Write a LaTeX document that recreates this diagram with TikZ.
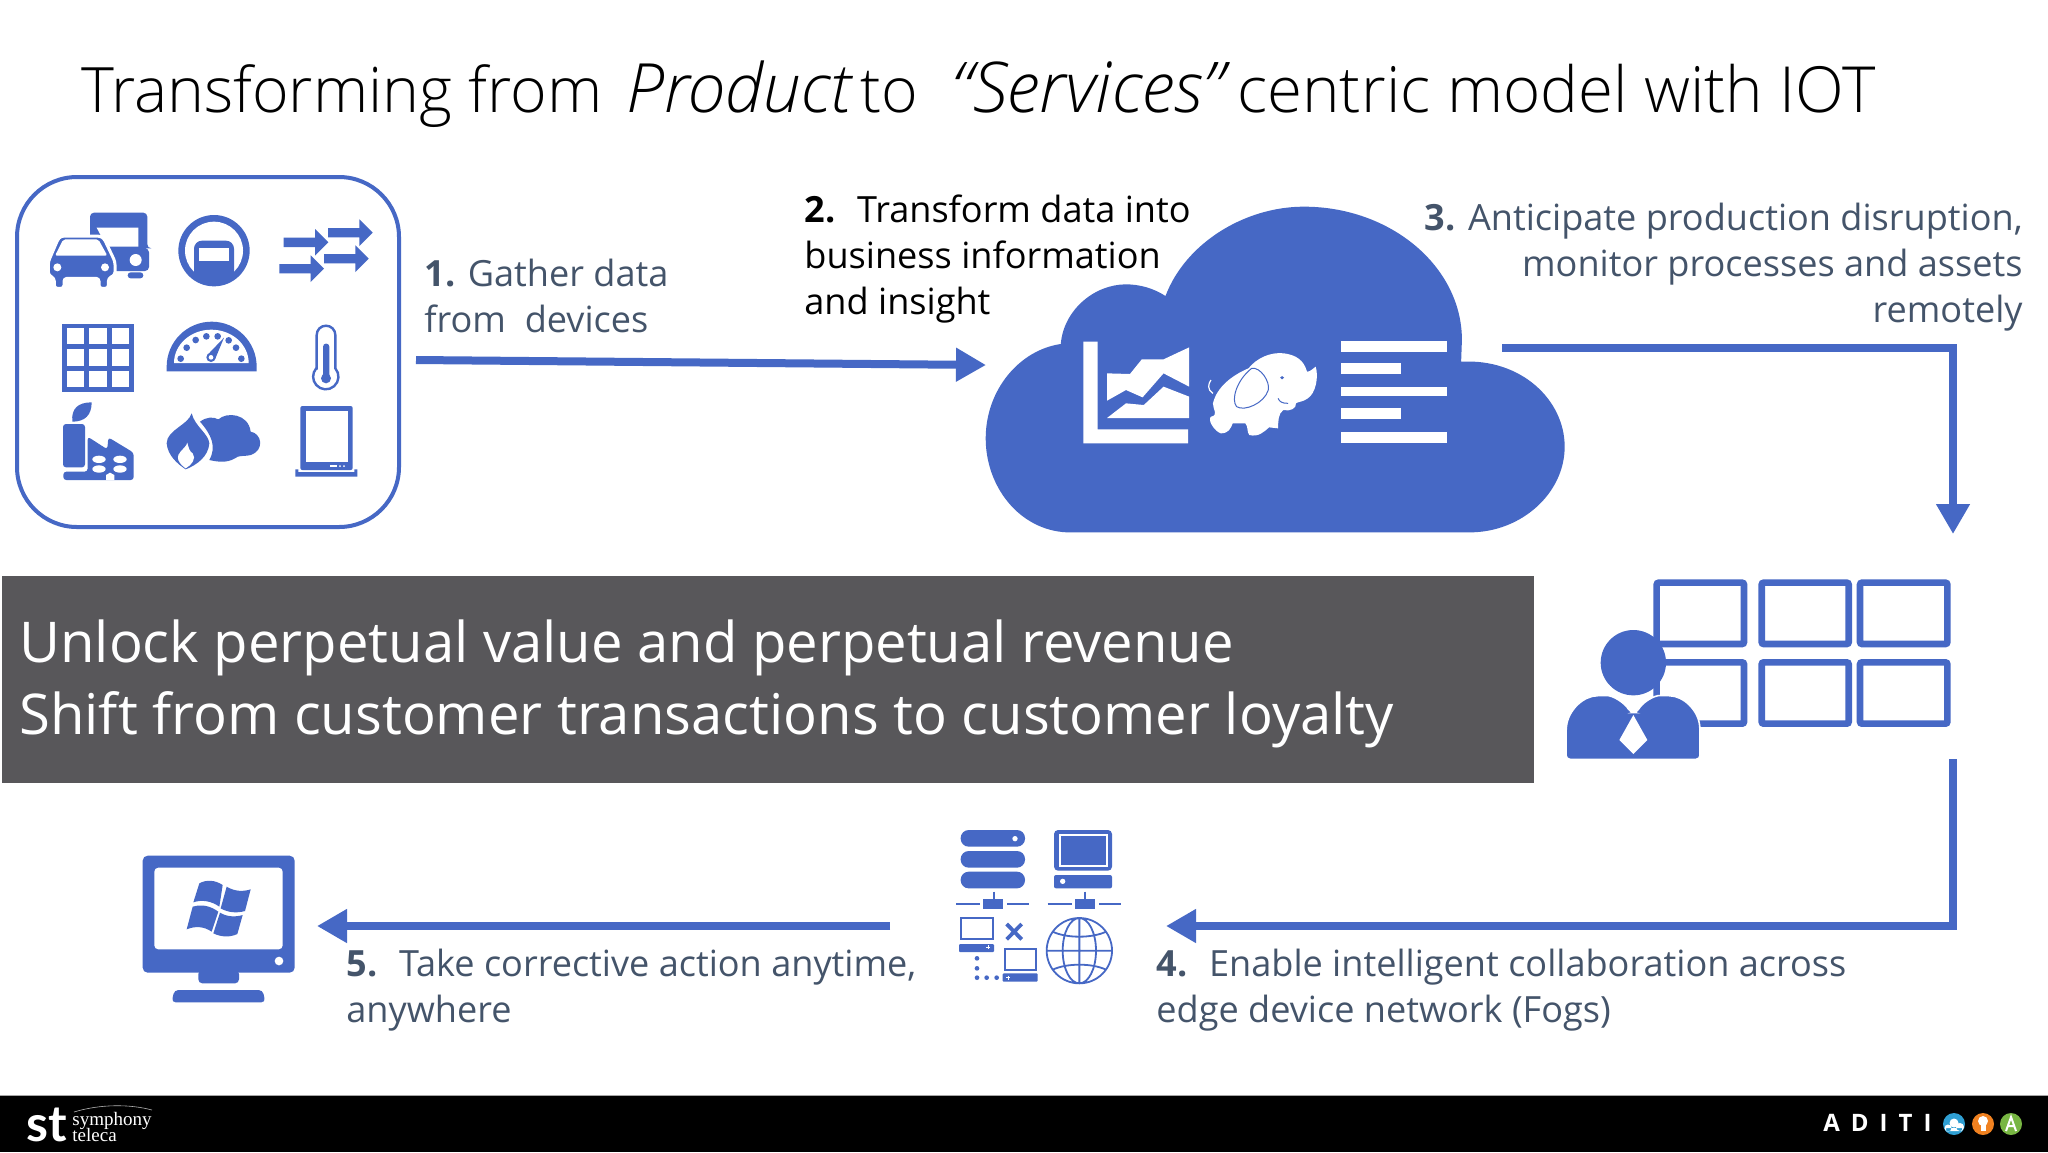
\documentclass[tikz,border=0pt]{standalone}
\usepackage{fontspec}
\usetikzlibrary{arrows.meta}
\setmainfont{Open Sans}
\newfontfamily\titlefont{Open Sans Light}
\newfontfamily\serifmark{Liberation Serif}
\newfontfamily\logofont{Lato}
\newcommand{\slantword}[2]{{\fontsize{#1}{40}\selectfont\itshape #2}}
\definecolor{iotblue}{HTML}{4668C5}
\definecolor{notegray}{HTML}{44546A}
\definecolor{bannergray}{HTML}{58575A}
\definecolor{dotblue}{HTML}{2F9FD3}
\definecolor{dotorange}{HTML}{F08120}
\definecolor{dotgreen}{HTML}{78B643}
\tikzset{
  px/.style={x=0.5pt,y=-0.5pt},
  zoomview/.style={x=0.16667pt,y=-0.16667pt},
  stepnote/.style={inner sep=0pt,font=\fontsize{18.05}{23}\selectfont,text=notegray,align=left,anchor=north west},
  flow/.style={draw=iotblue,line width=4pt,-{Triangle[length=15pt,width=16pt]}},
  ink/.style={fill=iotblue,draw=none},
  paper/.style={fill=white,draw=none},
  wire/.style={draw=iotblue,fill=none},
}
\begin{document}
\begin{tikzpicture}[px]
\useasboundingbox (0,0) rectangle (2048,1152);
\fill[white] (0,0) rectangle (2048,1152);

% title
\node[anchor=base west,inner sep=0pt,font=\titlefont\fontsize{31.3}{40}\selectfont,text=black] (title) at (81,112)
  {Transforming from\hspace{4pt} \slantword{34}{Product}\hspace{-3.5pt} to\hspace{0.5pt}\ \ \slantword{35}{“Services”}\hspace{-1.5pt} {\fontsize{31.8}{40}\selectfont centric model with IOT}};

% device box
\node[draw=iotblue,line width=2pt,rounded corners=30pt,minimum width=191pt,minimum height=175pt,inner sep=0pt,anchor=north west] (devices) at (15,175) {};
\begin{scope}[shift={(0,160)},zoomview]
  % truck
  \fill[iotblue,rounded corners=2pt] (270,158) -- (442,158) -- (442,265) -- (447,265) -- (447,333) -- (320,333) -- (270,240) -- cycle;
  \fill[white] (290,203) -- (415,203) -- (415,260) -- (320,260) -- cycle;
  \fill[white] (407,300) circle (18);
  \fill[iotblue,rounded corners=1.5pt] (383,337) rectangle (430,355);
  % car
  \path[draw=white,line width=1.5pt,fill=iotblue,rounded corners=1.5pt] (175,235) -- (185,228) -- (300,228) -- (312,235) -- (345,305) -- (345,345) -- (325,355) -- (325,385) -- (297,385) -- (297,355) -- (192,355) -- (192,385) -- (163,385) -- (163,355) -- (145,345) -- (145,305) -- cycle;
  \fill[white,rounded corners=1pt] (165,287) -- (190,238) -- (295,238) -- (322,287) -- cycle;
  \fill[white] (172,322) circle (12) (315,322) circle (12);
  % road sign
  \fill[iotblue] (642,272) circle (107);
  \fill[white] (642,272) circle (87);
  \begin{scope}
    \clip (642,272) circle (100);
    \fill[iotblue,rounded corners=4pt] (582,380) -- (582,242) -- (702,242) -- (702,380) -- cycle;
  \end{scope}
  \fill[white] (597,265) rectangle (688,302);
  % block arrows
  \foreach \tx/\ty in {985/247,1118/218,972/326,1106/296}
    \fill[iotblue] (\tx-134,\ty-14) -- (\tx-40,\ty-14) -- (\tx-40,\ty-40) -- (\tx,\ty) -- (\tx-40,\ty+40) -- (\tx-40,\ty+14) -- (\tx-134,\ty+14) -- cycle;
  % grid
  \draw[iotblue,line width=2.3pt] (194,498) rectangle (395,689) (260,498) -- (260,689) (328,498) -- (328,689) (194,560) -- (395,560) (194,625) -- (395,625);
  % gauge
  \fill[iotblue] (500,634) -- (500,620) arc[start angle=180,end angle=360,radius=135] -- (770,634) -- cycle;
  \fill[white] (522,609) arc[start angle=180,end angle=360,x radius=112,y radius=100] -- cycle;
  \foreach \dx/\dy in {542/596,560/563,587/540,619/529,653/529,686/541,708/563,724/596}
    \fill[iotblue] (\dx,\dy) circle (10);
  \fill[iotblue] (622,585) -- (672,533) -- (645,598) -- cycle;
  \fill[iotblue] (633,592) circle (14);
  \fill[white] (633,592) circle (7);
  % thermometer
  \draw[iotblue,line width=1.2pt,fill=white] (950,625) -- (950,525) arc[start angle=180,end angle=360,radius=28] -- (1006,625) arc[start angle=-41,end angle=221,radius=38] -- cycle;
  \fill[iotblue] (969,650) -- (969,560) arc[start angle=180,end angle=360,radius=9.5] -- (988,650) -- cycle;
  \fill[iotblue] (978,655) circle (15);
  % factory
  \fill[iotblue] (217,785) .. controls (213,745) and (235,727) .. (275,727) .. controls (275,765) and (255,785) .. (217,785) -- cycle;
  \fill[iotblue,rounded corners=1.5pt] (189,792) rectangle (255,922);
  \fill[iotblue,rounded corners=1.5pt] (190,935) -- (263,935) -- (263,830) -- (322,868) -- (325,832) -- (401,878) -- (401,960) -- (190,960) -- cycle;
  \foreach \ex/\ey in {297/898,360/898,297/927,360/927}
    \fill[white] (\ex,\ey) ellipse (20 and 11);
  \fill[white] (318,960) -- (318,945) -- (330,938) -- (343,945) -- (343,960) -- cycle;
  % flame and cloud
  \fill[iotblue] (575,760) .. controls (565,795) and (500,810) .. (500,850) .. controls (503,885) and (530,910) .. (557,928) .. controls (590,915) and (625,890) .. (628,850) .. controls (625,820) and (585,800) .. (575,760) -- cycle;
  \fill[white] (562,848) .. controls (555,870) and (528,875) .. (535,900) .. controls (540,912) and (550,920) .. (557,925) .. controls (575,915) and (590,895) .. (578,880) .. controls (568,875) and (565,860) .. (562,848) -- cycle;
  \fill[iotblue] (600,785) .. controls (620,770) and (640,770) .. (655,778) .. controls (680,755) and (745,760) .. (752,815) .. controls (785,820) and (795,870) .. (752,885) .. controls (730,890) and (715,885) .. (705,895) .. controls (680,910) and (650,905) .. (628,900) .. controls (650,860) and (635,825) .. (600,785) -- cycle;
  % tablet
  \fill[iotblue,rounded corners=1pt] (901,738) rectangle (1058,930);
  \fill[white] (917,753) rectangle (1045,905);
  \fill[white] (990,915) rectangle (1012,921);
  \fill[white] (1020,918) circle (3) (1032,918) circle (3);
  \fill[iotblue] (886,950) -- (886,928) -- (895,928) -- (895,936) -- (1063,936) -- (1063,928) -- (1072,928) -- (1072,950) -- cycle;
\end{scope}

% cloud
\begin{scope}[shift={(960,190)},x=0.1976pt,y=-0.16667pt]
  \path[ink] (270,1027) .. controls (150,1020) and (65,890) .. (65,745) .. controls (65,600) and (150,480) .. (255,462) .. controls (262,360) and (340,283) .. (420,283) .. controls (455,283) and (490,295) .. (520,318) .. controls (570,160) and (720,50) .. (870,50) .. controls (1090,50) and (1270,230) .. (1270,450) -- (1268,515) .. controls (1420,505) and (1530,630) .. (1530,770) .. controls (1530,910) and (1420,1027) .. (1290,1027) -- cycle;
  % chart
  \path[paper] (312,455) -- (348,455) -- (348,718) -- (577,718) -- (577,760) -- (312,760) -- cycle;
  \path[paper] (372,550) -- (430,552) -- (460,508) -- (515,508) -- (580,472) -- (580,590) -- (515,550) -- (462,622) -- (420,600) -- (372,632) -- cycle;
  \path[paper] (372,684) -- (420,640) -- (465,645) -- (515,590) -- (580,620) -- (580,684) -- cycle;
  % elephant
  \path[paper] (640,640) .. controls (650,590) and (690,555) .. (730,535) .. controls (750,505) and (785,485) .. (820,490) .. controls (850,495) and (870,510) .. (878,545) .. controls (888,545) and (892,535) .. (900,530) .. controls (908,560) and (900,610) .. (880,625) .. controls (870,635) and (855,635) .. (850,640) .. controls (852,655) and (835,665) .. (818,660) .. controls (805,670) and (805,695) .. (805,715) -- (782,712) .. controls (770,725) and (755,742) .. (732,735) .. controls (725,725) and (730,710) .. (722,700) -- (690,700) .. controls (685,715) and (680,730) .. (660,730) .. controls (645,725) and (625,690) .. (635,680) .. controls (655,675) and (640,660) .. (640,640) -- cycle;
  \draw[white,line width=0.6pt,fill=none] (640,610) .. controls (625,600) and (628,580) .. (635,570);
  \draw[iotblue,line width=0.5pt,fill=none] (738,535) .. controls (700,570) and (685,630) .. (700,650) .. controls (720,665) and (770,640) .. (780,600) .. controls (785,575) and (760,530) .. (738,535);
  \draw[iotblue,line width=0.5pt,fill=none] (830,640) .. controls (815,640) and (808,635) .. (805,625);
  \fill[iotblue] (815,563) circle (5);
  % list lines
  \foreach \ly/\lh/\lx in {452/33/1232,518/34/1116,590/28/1232,655/32/1116,727/33/1232}
    \path[paper] (964,\ly) rectangle (\lx,\ly+\lh);
\end{scope}

% operator with screens
\begin{scope}[shift={(1540,560)},zoomview]
  \foreach \sx/\sw in {350/262,665/261,960/262}
    \foreach \sy in {68,307}
      \draw[iotblue,line width=3.3pt,rounded corners=1pt] (\sx,\sy) rectangle (\sx+\sw,\sy+184);
  \fill[iotblue] (280,308) circle (98);
  \path[draw=white,line width=0.8pt,fill=iotblue,rounded corners=2pt] (78,598) -- (78,510) .. controls (85,450) and (130,407) .. (185,407) .. controls (220,405) and (255,430) .. (272,458) -- (290,458) .. controls (305,430) and (340,405) .. (375,407) .. controls (430,407) and (475,450) .. (480,510) -- (480,598) -- cycle;
  \path[paper] (280,465) -- (322,540) -- (280,582) -- (238,540) -- cycle;
\end{scope}

% network icon
\begin{scope}[shift={(930,810)},zoomview]
  \foreach \ry in {60,123,185}
    \fill[iotblue,rounded corners=4pt] (92,\ry) rectangle (285,\ry+50);
  \fill[white] (255,86) circle (8);
  \fill[iotblue,rounded corners=2pt] (372,60) rectangle (546,182);
  \draw[white,line width=1pt] (391,76) rectangle (531,167);
  \fill[iotblue,rounded corners=1pt] (372,195) rectangle (546,235);
  \fill[white] (398,214) circle (8);
  \foreach \nx in {0,275}{
    \draw[iotblue,line width=1.1pt] (78+\nx,282) -- (150+\nx,282) (232+\nx,282) -- (298+\nx,282) (191+\nx,245) -- (191+\nx,270);
    \fill[iotblue] (160+\nx,268) rectangle (220+\nx,297);
  }
  \draw[iotblue,line width=0.9pt] (93,323) rectangle (188,388);
  \fill[iotblue,rounded corners=0.5pt] (87,402) rectangle (192,426);
  \draw[white,line width=0.4pt] (169,412) -- (181,412) (175,406) -- (175,418);
  \draw[iotblue,line width=0.9pt] (224,416) rectangle (319,479);
  \fill[iotblue,rounded corners=0.5pt] (218,490) rectangle (323,515);
  \draw[white,line width=0.4pt] (228,503) -- (240,503) (234,497) -- (234,509);
  \draw[iotblue,line width=1.9pt] (230,342) -- (275,388) (275,342) -- (230,388);
  \foreach \dx/\dy in {141/445,141/475,141/503,170/503,200/503}
    \fill[iotblue] (\dx,\dy) circle (7);
  \draw[iotblue,line width=0.9pt] (448,422) circle (98) (448,422) ellipse (50 and 98) (448,324) -- (448,520) (350,422) -- (546,422);
  \draw[iotblue,line width=0.9pt] (368,365) .. controls (410,385) and (486,385) .. (528,365) (368,479) .. controls (410,459) and (486,459) .. (528,479);
\end{scope}

% desktop icon
\begin{scope}[shift={(130,840)},zoomview]
  \fill[iotblue,rounded corners=2.5pt] (38,47) rectangle (494,398);
  \fill[white,rounded corners=2pt] (73,83) rectangle (458,328);
  \fill[white] (447,363) circle (13);
  \fill[iotblue,rounded corners=2pt] (205,390) -- (205,430) -- (327,430) -- (327,390) -- cycle;
  \fill[iotblue,rounded corners=2pt] (125,487) -- (133,450) -- (398,450) -- (406,487) -- cycle;
  \fill[iotblue] (208,130) .. controls (230,118) and (255,120) .. (278,135) -- (268,200) .. controls (245,183) and (215,178) .. (190,187) -- cycle;
  \fill[iotblue] (290,140) .. controls (315,155) and (340,155) .. (362,148) -- (345,213) .. controls (320,220) and (295,218) .. (272,205) -- cycle;
  \fill[iotblue] (188,200) .. controls (215,192) and (240,197) .. (265,215) -- (245,275) .. controls (220,258) and (195,258) .. (170,268) -- cycle;
  \fill[iotblue] (270,218) .. controls (290,230) and (315,232) .. (338,225) -- (322,282) .. controls (300,292) and (275,292) .. (250,280) -- cycle;
\end{scope}

% banner
\node[fill=bannergray,minimum width=766pt,minimum height=103.5pt,inner sep=0pt,anchor=north west] (banner) at (2,576) {};
\node[anchor=north west,inner sep=0pt,align=left,text=white,font=\fontsize{28.1}{36}\selectfont] (bannertext) at (19,619)
  {Unlock perpetual value and perpetual revenue\\Shift from customer transactions to customer loyalty};

% step notes
\node[stepnote] (note1) at (424,259) {\textbf{1.} Gather data\\from\ \ devices};
\node[stepnote,text=black] (note2) at (804,194) {\textbf{2.}\hspace{1.5pt}\ \ Transform data into\\business information\\and insight};
\node[stepnote,align=right,anchor=north east] (note3) at (2023,203) {\textbf{3.} Anticipate production disruption,\\monitor processes and assets\\remotely};
\node[stepnote] (note4) at (1156,949) {\textbf{4.}\hspace{1.5pt}\ \ Enable intelligent collaboration across\\edge device network (Fogs)};
\node[stepnote] (note5) at (346,949) {\textbf{5.}\hspace{1.5pt}\ \ Take corrective action anytime,\\anywhere};

% connector anchors
\coordinate (a1s) at (416,360);
\coordinate (a1e) at (986,365);
\coordinate (a2s) at (1502,348);
\coordinate (a2e) at (1953,534);
\coordinate (a3s) at (1953,759);
\coordinate (a3e) at (1166,926);
\coordinate (a4s) at (890,926);
\coordinate (a4e) at (317,926);
\draw[flow] (a1s) -- (a1e);
\draw[flow] (a2s) -| (a2e);
\draw[flow] (a3s) |- (a3e);
\draw[flow] (a4s) -- (a4e);

% footer
\fill[black] (0,1095) rectangle (2048,1152);
\draw[gray!70,line width=0.5pt] (0,1095) -- (2048,1095);
\node[anchor=base west,inner sep=0pt,text=white,font=\logofont\bfseries\fontsize{25}{26}\selectfont] (stmark) at (26,1141) {st};
\draw[white!70!black,line width=0.3pt] (74,1112) .. controls (100,1104) and (130,1104) .. (152,1110);
\node[anchor=north west,inner sep=0pt,align=left,text=white,font=\serifmark\fontsize{9.5}{7.5}\selectfont] (symteleca) at (72,1112) {symphony\\[-1.6pt]teleca};
\node[anchor=base west,inner sep=0pt,text=white,font=\bfseries\fontsize{12}{12}\selectfont] (aditi) at (1823,1131) {A\hspace{5.5pt}D\hspace{5.5pt}I\hspace{5.5pt}T\hspace{5.5pt}I};
\fill[dotblue] (1954,1124) circle (11);
\fill[dotorange] (1983,1124) circle (11);
\fill[dotgreen] (2011,1124) circle (11);
\fill[white] (1948,1128) circle (3.5) (1954,1123) circle (4.5) (1960,1127) circle (4) (1946,1128) rectangle (1962,1131);
\fill[white] (1983,1121) circle (5);
\fill[white] (1980.5,1125) rectangle (1985.5,1131);
\draw[white,line width=1pt] (2006,1131) -- (2011,1117) -- (2016,1131) (2008,1126) -- (2014,1126);
\end{tikzpicture}
\end{document}
